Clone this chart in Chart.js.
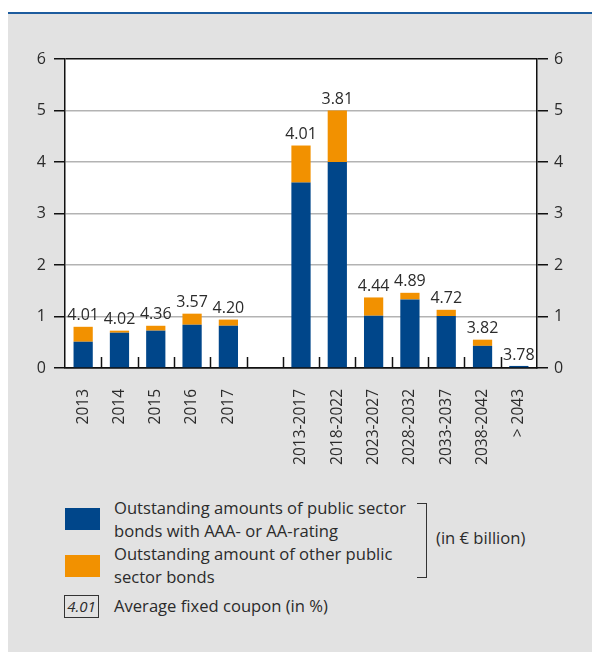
<!DOCTYPE html>
<html>
<head>
<meta charset="utf-8">
<script src="https://cdn.jsdelivr.net/npm/chart.js@4"></script>
<style>
  body { margin: 0; background: #fff; font-family: "Open Sans", sans-serif; color: #2b2b2b; }
  #page { position: relative; width: 592px; height: 652px; overflow: hidden; }
  #topline { position: absolute; left: 8px; top: 12px; width: 584px; height: 2px; background: #1d5c9e; }
  #panel { position: absolute; left: 8px; top: 14px; width: 584px; height: 638px; background: #e2e2e2; }
  #chartBox { position: absolute; left: 0; top: 0; width: 592px; height: 470px; }
  .swatch { position: absolute; left: 65px; width: 35px; height: 22px; }
  .txt { position: absolute; font-size: 16.6px; line-height: 22.5px; white-space: nowrap; }
  #coupBox { position: absolute; left: 64px; top: 595px; width: 33px; height: 21px; border: 1px solid #333;
             font-size: 15px; font-style: italic; line-height: 21px; text-align: center; }
  #bracket { position: absolute; left: 417px; top: 503px; width: 9px; height: 73px;
             border: 1.5px solid #333; border-left: none; }
</style>
</head>
<body>
<div id="page">
  <div id="panel"></div>
  <div id="topline"></div>
  <div id="chartBox"><canvas id="bondChart"></canvas></div>

  <div class="swatch" style="top:508px; background:#00468a;"></div>
  <div class="txt" style="left:114px; top:497px;">Outstanding amounts of public sector<br>bonds with AAA- or AA-rating</div>
  <div class="swatch" style="top:555px; background:#f29100;"></div>
  <div class="txt" style="left:114px; top:543px;">Outstanding amount of other public<br>sector bonds</div>
  <div id="bracket"></div>
  <div class="txt" style="left:436px; top:527px;">(in € billion)</div>
  <div id="coupBox">4.01</div>
  <div class="txt" style="left:114px; top:595px;">Average fixed coupon (in %)</div>
</div>

<script>
// maturity buckets (blank slot separates single years from 5-year bands)
const categories = ['2013', '2014', '2015', '2016', '2017', '',
    '2013-2017', '2018-2022', '2023-2027', '2028-2032', '2033-2037', '2038-2042', '> 2043'];
// € billion
const ratedAAA = [0.51, 0.685, 0.725, 0.84, 0.82, null, 3.60, 4.00, 1.015, 1.33, 1.01, 0.43, 0.04];
const otherBonds = [0.29, 0.04, 0.095, 0.215, 0.12, null, 0.72, 1.00, 0.355, 0.13, 0.12, 0.12, 0];
// average fixed coupon in %
const coupons = ['4.01', '4.02', '4.36', '3.57', '4.20', '',
    '4.01', '3.81', '4.44', '4.89', '4.72', '3.82', '3.78'];
const yTicks = [0, 1, 2, 3, 4, 5, 6];

const FONT = '"Open Sans", sans-serif';
const TEXT = '#2b2b2b';

// white plot area
const plotBg = {
    id: 'plotBg',
    beforeDraw(chart) {
        const a = chart.chartArea;
        chart.ctx.save();
        chart.ctx.fillStyle = '#fff';
        chart.ctx.fillRect(a.left, a.top, a.right - a.left, a.bottom - a.top);
        chart.ctx.restore();
    }
};

// short separators between categories, pointing up from the x axis
const catTicks = {
    id: 'catTicks',
    afterDraw(chart) {
        const x = chart.scales.x;
        const bottom = chart.chartArea.bottom;
        const ctx = chart.ctx;
        ctx.save();
        ctx.strokeStyle = '#111';
        ctx.lineWidth = 1.5;
        for (let i = 1; i < categories.length; i++) {
            const px = Math.round((x.getPixelForTick(i - 1) + x.getPixelForTick(i)) / 2) + 0.5;
            ctx.beginPath();
            ctx.moveTo(px, bottom);
            ctx.lineTo(px, bottom - 11);
            ctx.stroke();
        }
        ctx.restore();
    }
};

// coupon labels above each stack
const couponLabels = {
    id: 'couponLabels',
    afterDatasetsDraw(chart) {
        const meta = chart.getDatasetMeta(1);
        const ctx = chart.ctx;
        ctx.save();
        ctx.font = '16px ' + FONT;
        ctx.fillStyle = TEXT;
        ctx.textAlign = 'center';
        ctx.textBaseline = 'middle';
        meta.data.forEach((bar, i) => {
            if (!coupons[i]) return;
            ctx.fillText(coupons[i], bar.x, bar.y - 11);
        });
        ctx.restore();
    }
};

new Chart(document.getElementById('bondChart').getContext('2d'), {
    type: 'bar',
    data: {
        labels: categories,
        datasets: [{
            label: 'AAA/AA',
            data: ratedAAA,
            backgroundColor: '#00468a',
            barPercentage: 0.53,
            categoryPercentage: 1
        }, {
            label: 'other',
            data: otherBonds,
            backgroundColor: '#f29100',
            barPercentage: 0.53,
            categoryPercentage: 1
        }]
    },
    options: {
        responsive: true,
        maintainAspectRatio: false,
        animation: false,
        layout: {
            padding: { top: 59, left: 0, right: 0, bottom: 0 }
        },
        plugins: {
            legend: { display: false },
            tooltip: { enabled: false }
        },
        scales: {
            x: {
                stacked: true,
                grid: { display: false },
                border: { color: '#111', width: 1.5 },
                ticks: {
                    minRotation: 90,
                    maxRotation: 90,
                    autoSkip: false,
                    padding: 13,
                    color: TEXT,
                    font: { family: FONT, size: 15.5 }
                },
                afterFit(scale) { scale.height = 102; }
            },
            y: {
                stacked: true,
                position: 'left',
                min: 0,
                max: 6,
                afterBuildTicks(scale) { scale.ticks = yTicks.map(v => ({ value: v })); },
                grid: {
                    color: ctx => (ctx.tick && (ctx.tick.value === 6 || ctx.tick.value === 0)) ? '#111' : '#b3b3b3',
                    lineWidth: 1.5,
                    tickColor: '#111',
                    tickLength: 11
                },
                border: { color: '#111', width: 1.5 },
                ticks: {
                    padding: 8,
                    color: TEXT,
                    font: { family: FONT, size: 16 }
                },
                afterFit(scale) { scale.width = 65; }
            },
            y2: {
                position: 'right',
                min: 0,
                max: 6,
                afterBuildTicks(scale) { scale.ticks = yTicks.map(v => ({ value: v })); },
                grid: {
                    drawOnChartArea: false,
                    tickColor: '#111',
                    tickLength: 11,
                    lineWidth: 1.5
                },
                border: { color: '#111', width: 1.5 },
                ticks: {
                    padding: 6,
                    color: TEXT,
                    font: { family: FONT, size: 16 }
                },
                afterFit(scale) { scale.width = 55; }
            }
        }
    },
    plugins: [plotBg, catTicks, couponLabels]
});
</script>
</body>
</html>
